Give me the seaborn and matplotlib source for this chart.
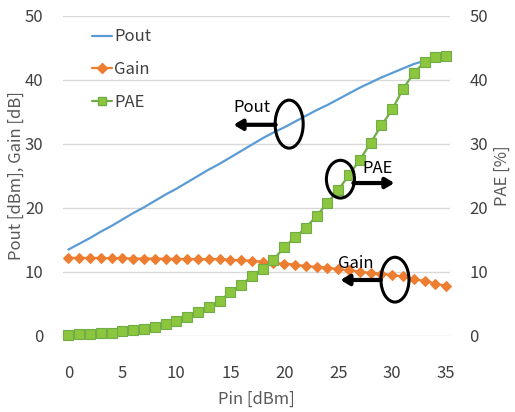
import matplotlib
matplotlib.use("Agg")
import matplotlib.pyplot as plt
from matplotlib.patches import Ellipse
from matplotlib.lines import Line2D
import seaborn as sns
import pandas as pd

# Power sweep of the amplifier
pin = list(range(36))
pout = [13.5, 14.4, 15.3, 16.3, 17.2, 18.2, 19.2, 20.1, 21.1, 22.1,
        23.0, 24.0, 25.0, 26.0, 26.9, 27.9, 28.9, 29.9, 30.9, 31.8,
        32.6, 33.5, 34.4, 35.3, 36.1, 37.0, 37.9, 38.8, 39.6, 40.4,
        41.1, 41.8, 42.5, 43.0, 43.3, 43.6]
gain = [12.2, 12.2, 12.2, 12.2, 12.15, 12.15, 12.1, 12.1, 12.1, 12.05,
        12.05, 12.0, 12.0, 12.0, 12.0, 11.9, 11.85, 11.75, 11.6, 11.4,
        11.3, 11.15, 10.9, 10.8, 10.7, 10.4, 10.3, 10.05, 9.85, 9.75,
        9.5, 9.3, 8.85, 8.6, 8.2, 7.8]
pae = [0.1, 0.25, 0.3, 0.5, 0.5, 0.75, 0.9, 1.1, 1.45, 1.8,
       2.4, 2.95, 3.7, 4.55, 5.5, 6.8, 8.0, 9.3, 10.5, 11.9,
       13.9, 15.4, 16.9, 18.8, 20.8, 22.8, 25.2, 27.5, 30.2, 32.9,
       35.4, 38.6, 41.1, 42.8, 43.6, 43.75]
x_ticks = [0, 5, 10, 15, 20, 25, 30, 35]
y_ticks = [0, 10, 20, 30, 40, 50]

df = pd.DataFrame({"Pin": pin, "Pout": pout, "Gain": gain, "PAE": pae})

sns.set_style("white")
plt.rcParams["font.family"] = ["Noto Sans CJK KR", "DejaVu Sans"]

C_POUT = "#5B9BD5"
C_GAIN = "#ED7D31"
C_PAE = "#70AD47"
C_PAE_FILL = "#8CC63F"
TICK_C = "#404040"
LABEL_C = "#595959"
FS = 12

fig = plt.figure(figsize=(5.15, 4.12), dpi=100)
ax = fig.add_axes([0.1223, 0.1845, 0.7515, 0.7767])
ax2 = ax.twinx()

sns.lineplot(data=df, x="Pin", y="Pout", ax=ax, color=C_POUT, linewidth=1.6)
sns.lineplot(data=df, x="Pin", y="Gain", ax=ax, color=C_GAIN, linewidth=1.6,
             marker="D", markersize=5.5, markeredgecolor=C_GAIN,
             markerfacecolor=C_GAIN, clip_on=False)
sns.lineplot(data=df, x="Pin", y="PAE", ax=ax2, color=C_PAE, linewidth=1.6,
             marker="s", markersize=7.5, markeredgecolor=C_PAE,
             markerfacecolor=C_PAE_FILL, markeredgewidth=0.8, clip_on=False)

for a in (ax, ax2):
    a.set_xlim(-0.5, 35.35)
    a.set_ylim(0, 50)
    a.set_yticks(y_ticks)
    for s in a.spines.values():
        s.set_visible(False)

ax.set_xticks(x_ticks)
ax.yaxis.grid(True, color="#D9D9D9", linewidth=1.0)
ax.set_axisbelow(True)
ax.tick_params(axis="both", length=0, labelsize=FS, labelcolor=TICK_C)
ax.tick_params(axis="x", pad=21)
ax.tick_params(axis="y", pad=14)
ax2.tick_params(axis="y", length=0, labelsize=FS, labelcolor=TICK_C, pad=14)

ax.set_xlabel("Pin [dBm]", fontsize=FS, color=LABEL_C)
ax.xaxis.set_label_coords(0.5, -0.172)
ax.set_ylabel("Pout [dBm], Gain [dB]", fontsize=FS, color=LABEL_C)
ax.yaxis.set_label_coords(-0.098, 0.5)
ax2.set_ylabel("PAE [%]", fontsize=FS, color=LABEL_C, rotation=90)
ax2.yaxis.set_label_coords(1.112, 0.5)

handles = [
    Line2D([], [], color=C_POUT, linewidth=1.6),
    Line2D([], [], color=C_GAIN, linewidth=1.6, marker="D", markersize=5,
           markerfacecolor=C_GAIN, markeredgecolor=C_GAIN),
    Line2D([], [], color=C_PAE, linewidth=1.6, marker="s", markersize=6,
           markerfacecolor=C_PAE_FILL, markeredgecolor=C_PAE),
]
leg = ax2.legend(handles, ["Pout", "Gain", "PAE"], loc="upper left",
                 bbox_to_anchor=(0.035, 1.008), frameon=False, fontsize=FS,
                 handlelength=1.2, handletextpad=0.15, labelspacing=0.95)
for t in leg.get_texts():
    t.set_color(TICK_C)

# Callouts: circle on the curve with an arrow pointing to its axis
callouts = [
    ("Pout", (20.45, 33.1), 7.5, (19.2, 33.0), (15.3, 33.0), (15.25, 35.0)),
    ("PAE", (25.2, 24.5), 5.9, (26.4, 23.9), (30.2, 23.9), (27.2, 25.5)),
    ("Gain", (30.25, 8.8), 7.0, (28.95, 8.75), (25.2, 8.75), (25.0, 10.6)),
]
for label, center, h, start, end, txt in callouts:
    ax2.add_patch(Ellipse(center, 2.6, h, fill=False, edgecolor="black",
                          linewidth=2.2, zorder=5))
    ax2.annotate("", xy=end, xytext=start,
                 arrowprops=dict(arrowstyle="-|>,head_length=0.5,head_width=0.3",
                                 color="black", linewidth=3, shrinkA=0, shrinkB=0),
                 zorder=5)
    ax2.text(txt[0], txt[1], label, fontsize=FS, color="black", zorder=6)

fig.savefig("out.png", dpi=100)
